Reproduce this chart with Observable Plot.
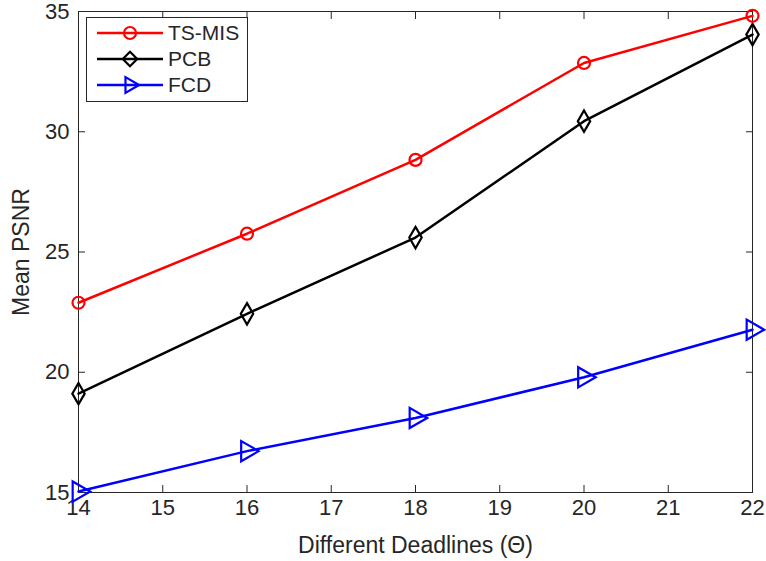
<!DOCTYPE html>
<html>
<head>
<meta charset="utf-8">
<script src="https://cdn.jsdelivr.net/npm/d3@7"></script>
<script src="https://cdn.jsdelivr.net/npm/@observablehq/plot@0.6"></script>
<style>
  body { margin: 0; background: #fff; }
  #chart { position: relative; width: 766px; height: 561px; }
  #chart svg { font-family: "Liberation Sans", Arial, Helvetica, sans-serif; }
  #legend { position: absolute; left: 86px; top: 17px; width: 160px; height: 83px;
            border: 1px solid #262626; background: #fff; }
  #legend svg { display: block; }
</style>
</head>
<body>
<div id="chart"></div>
<script>
// Mean PSNR for each deadline, per scheduling method
const deadlines = [14, 16, 18, 20, 22];
const tsMis = [22.89, 25.76, 28.83, 32.86, 34.82];
const pcb = [19.11, 22.43, 25.6, 30.44, 34.04];
const fcd = [15.04, 16.72, 18.1, 19.79, 21.77];

const seriesNames = ["TS-MIS", "PCB", "FCD"];
const seriesValues = [tsMis, pcb, fcd];
const seriesColors = ["#ff0000", "#000000", "#0000ff"];
const seriesSymbols = ["circle", "diamond", "triangle"];
const seriesRotate = [0, 0, 90];
const seriesRadius = [6, 6.5, 7.5];

const xTicks = [14, 15, 16, 17, 18, 19, 20, 21, 22];
const yTicks = [15, 20, 25, 30, 35];
const xLabel = "Different Deadlines (\u0398)";
const yLabel = "Mean PSNR";

const rows = seriesNames.flatMap((name, i) =>
  deadlines.map((d, j) => ({
    series: name, deadline: d, psnr: seriesValues[i][j],
    rotate: seriesRotate[i], r: seriesRadius[i]
  }))
);

const ink = "#262626";
const blank = () => "";

const chart = Plot.plot({
  width: 766,
  height: 561,
  marginLeft: 78,
  marginRight: 14,
  marginTop: 11,
  marginBottom: 69,
  style: { fontSize: "22px", color: ink, background: "#fff" },
  x: { domain: [14, 22] },
  y: { domain: [15, 35] },
  color: { domain: seriesNames, range: seriesColors },
  symbol: { domain: seriesNames, range: seriesSymbols },
  r: { type: "identity" },
  marks: [
    Plot.frame({ stroke: ink, strokeWidth: 1 }),
    // tick labels
    Plot.axisX(xTicks, { anchor: "bottom", tickSize: 0, tickPadding: 7, label: null }),
    Plot.axisY(yTicks, { anchor: "left", tickSize: 0, tickPadding: 9, label: null }),
    // axis titles
    Plot.axisX(xTicks, { anchor: "bottom", tickSize: 0, tickFormat: blank, fontSize: 23,
      label: xLabel, labelAnchor: "center", labelArrow: "none", labelOffset: 60 }),
    Plot.axisY(yTicks, { anchor: "left", tickSize: 0, tickFormat: blank, fontSize: 23,
      label: yLabel, labelAnchor: "center", labelArrow: "none", labelOffset: 66 }),
    // inward tick marks on all four sides
    Plot.axisX(xTicks, { anchor: "bottom", tickSize: -7, tickFormat: blank, label: null, stroke: ink }),
    Plot.axisX(xTicks, { anchor: "top", tickSize: -7, tickFormat: blank, label: null, stroke: ink }),
    Plot.axisY(yTicks, { anchor: "left", tickSize: -7, tickFormat: blank, label: null, stroke: ink }),
    Plot.axisY(yTicks, { anchor: "right", tickSize: -7, tickFormat: blank, label: null, stroke: ink }),
    Plot.line(rows, { x: "deadline", y: "psnr", z: "series", stroke: "series", strokeWidth: 2.5 }),
    Plot.dot(rows, { x: "deadline", y: "psnr", symbol: "series", stroke: "series",
      fill: "none", strokeWidth: 2.2, r: "r", rotate: "rotate" })
  ]
});

const root = document.getElementById("chart");
root.appendChild(chart);

// Legend box in the upper-left corner of the axes
const legend = document.createElement("div");
legend.id = "legend";
root.appendChild(legend);
const lsvg = d3.select(legend).append("svg").attr("width", 160).attr("height", 83)
  .style("font-family", "\"Liberation Sans\", Arial, Helvetica, sans-serif");
const symbolTypes = { circle: d3.symbolCircle, diamond: d3.symbolDiamond2, triangle: d3.symbolTriangle2 };
seriesNames.forEach((name, i) => {
  const g = lsvg.append("g").attr("transform", `translate(0,${15 + i * 26})`);
  g.append("line").attr("x1", 10).attr("x2", 76).attr("y1", 0).attr("y2", 0)
    .attr("stroke", seriesColors[i]).attr("stroke-width", 2.5);
  g.append("path")
    .attr("d", d3.symbol(symbolTypes[seriesSymbols[i]], Math.PI * seriesRadius[i] ** 2)())
    .attr("transform", `translate(43,0) rotate(${seriesRotate[i]})`)
    .attr("fill", "none").attr("stroke", seriesColors[i]).attr("stroke-width", 2.2);
  g.append("text").attr("x", 81).attr("y", 0).attr("dy", "0.35em")
    .attr("font-size", 21).attr("fill", ink).text(name);
});
</script>
</body>
</html>
